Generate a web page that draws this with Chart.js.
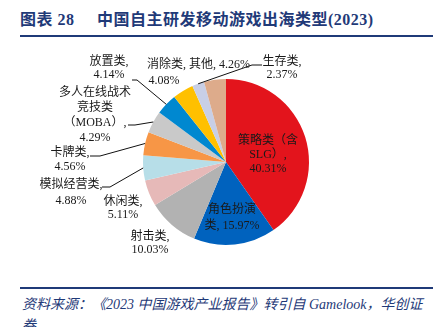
<!DOCTYPE html>
<html>
<head>
<meta charset="utf-8">
<script src="https://cdn.jsdelivr.net/npm/chart.js@4"></script>
<style>
  html, body { margin: 0; padding: 0; background: #fff; }
  body { width: 435px; height: 327px; position: relative; overflow: hidden; }
  .title {
    position: absolute; top: 6px; white-space: nowrap; letter-spacing: 0.5px;
    font: bold 16px "Liberation Serif", "Noto Sans CJK SC", serif; color: #1f3a78;
  }
  #topRule { position: absolute; left: 20px; top: 35px; width: 413px; height: 2px; background: #1f3a78; }
  #bottomRule { position: absolute; left: 20px; top: 287px; width: 413px; height: 1.5px; background: #1f3a78; }
  .src {
    position: absolute; left: 22px; white-space: nowrap;
    font: italic 14px "Liberation Serif", "Noto Sans CJK SC", serif; color: #1f3a78;
  }
  #chartWrap { position: absolute; left: 0; top: 40px; width: 435px; height: 245px; }
</style>
</head>
<body>
<div class="title" style="left:20px">图表 28</div>
<div class="title" style="left:97px">中国自主研发移动游戏出海类型(2023)</div>
<div id="topRule"></div>
<div id="chartWrap"><canvas id="pieChart" width="435" height="245"></canvas></div>
<div id="bottomRule"></div>
<div class="src" style="top:293px">资料来源：《2023 中国游戏产业报告》转引自 Gamelook，华创证</div>
<div class="src" style="top:314px">券</div>
<script>
// categories in clockwise order from 12 o'clock
const categories = ['策略类（含SLG）', '角色扮演类', '射击类', '休闲类', '模拟经营类', '卡牌类',
  '多人在线战术竞技类（MOBA）', '放置类', '消除类', '生存类', '其他'];
const shares = [40.31, 15.97, 10.03, 5.11, 4.88, 4.56, 4.29, 4.14, 4.08, 2.37, 4.26];
const sliceColors = ['#e3141c', '#0062be', '#b2b2b2', '#e6b9b8', '#b7dee8', '#f79646',
  '#c9c9c9', '#0088d0', '#ffc000', '#c8cfe6', '#ddab8b'];

// label text lines, where they sit, and optional leader line anchor
const labelLayout = [
  { lines: ['策略类（含', 'SLG）,', '40.31%'], x: 268, y: 101, dy: 14 },
  { lines: ['角色扮演', '类, 15.97%'], x: 232, y: 170, dy: 16 },
  { lines: ['射击类,', '10.03%'], x: 150, y: 197, dy: 13 },
  { lines: ['休闲类,', '5.11%'], x: 123, y: 162, dy: 13 },
  { lines: ['模拟经营类,', '4.88%'], x: 71, y: 145, dy: 16, lead: [[102, 147], [110, 147]] },
  { lines: ['卡牌类,', '4.56%'], x: 70, y: 113, dy: 14, lead: [[90, 116], [100, 116]] },
  { lines: ['多人在线战术', '竞技类', '（MOBA）,', '4.29%'], x: 95, y: 53, dy: 15, lead: [[128, 85], [135, 85]] },
  { lines: ['放置类,', '4.14%'], x: 109, y: 22, dy: 13, lead: [[132, 40], [137, 40]] },
  { lines: ['消除类,'], x: 147, y: 25, dy: 16, align: 'left' },
  { lines: ['生存类,', '2.37%'], x: 282, y: 22, dy: 13, lead: [[262, 25], [252, 25]] },
  { lines: ['其他, 4.26%'], x: 189, y: 25, dy: 13, align: 'left' }
];
// second line of the 消除类 label, centred under it
const extraText = [{ text: '4.08%', x: 164, y: 41 }];

const labelPlugin = {
  id: 'sliceLabels',
  afterDatasetsDraw(chart) {
    const c = chart.ctx;
    const arcs = chart.getDatasetMeta(0).data;
    c.save();
    c.font = '12px "Liberation Serif", "Noto Sans CJK SC", serif';
    c.textBaseline = 'middle';
    labelLayout.forEach((lab, i) => {
      if (lab.lead) {
        const a = arcs[i];
        const mid = (a.startAngle + a.endAngle) / 2;
        c.beginPath();
        c.moveTo(lab.lead[0][0], lab.lead[0][1]);
        c.lineTo(lab.lead[1][0], lab.lead[1][1]);
        c.lineTo(a.x + Math.cos(mid) * a.outerRadius, a.y + Math.sin(mid) * a.outerRadius);
        c.strokeStyle = '#111';
        c.lineWidth = 1;
        c.stroke();
      }
      c.fillStyle = '#1a1a1a';
      c.textAlign = lab.align || 'center';
      lab.lines.forEach((t, k) => c.fillText(t, lab.x, lab.y + k * lab.dy));
    });
    c.textAlign = 'center';
    extraText.forEach(e => c.fillText(e.text, e.x, e.y));
    c.restore();
  }
};

new Chart(document.getElementById('pieChart').getContext('2d'), {
  type: 'pie',
  data: {
    labels: categories,
    datasets: [{ data: shares, backgroundColor: sliceColors, borderWidth: 0 }]
  },
  options: {
    responsive: false,
    animation: false,
    devicePixelRatio: 1,
    layout: { padding: { left: 143, right: 126, top: 39, bottom: 40 } },
    plugins: { legend: { display: false }, tooltip: { enabled: false } }
  },
  plugins: [labelPlugin]
});
</script>
</body>
</html>
